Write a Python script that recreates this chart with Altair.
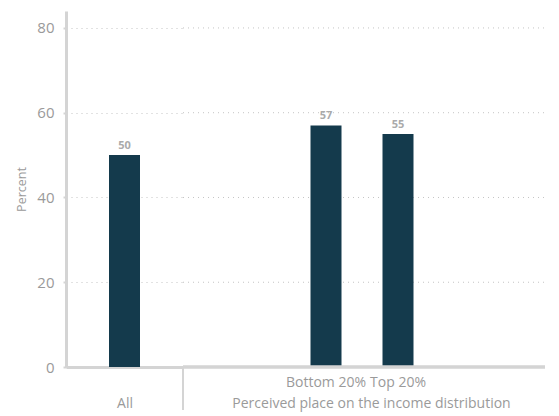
import altair as alt
import pandas as pd

all_cat = ["All"]
all_val = [50]
grp_cat = ["Bottom 20%", "Top 20%"]
grp_val = [57, 55]
y_ticks = [0, 20, 40, 60, 80]
grid_vals = [20, 40, 60, 80]

BAR = "#143a4c"
GRAY = "#9a9a9a"
LINE = "#d4d4d4"
GRID = "#c4c4c4"
FONT = "Open Sans"
H = 356
WL = 117
WR = 362

df_all = pd.DataFrame({"cat": all_cat, "val": all_val})
df_grp = pd.DataFrame({"cat": grp_cat, "val": grp_val})
df_grid = pd.DataFrame({"g": grid_vals})

yscale = alt.Scale(domain=[0, 84], nice=False)

left_base = alt.Chart(df_all).encode(
    x=alt.X("cat:N",
            axis=alt.Axis(labels=False, ticks=False, title="All", titlePadding=29,
                          titleFontWeight="normal", titleFontSize=14, titleColor=GRAY,
                          titleFont=FONT, domainColor=LINE, domainWidth=3)),
    y=alt.Y("val:Q", scale=yscale,
            axis=alt.Axis(values=y_ticks, title="Percent", titleFontWeight="normal",
                          titleFontSize=12.5, titleColor=GRAY, titleFont=FONT, titlePadding=8,
                          labelFontSize=15, labelColor=GRAY, labelFont=FONT, labelPadding=9,
                          tickSize=3, tickColor=LINE, tickWidth=2,
                          domainColor=LINE, domainWidth=3,
                          grid=True, gridDash=[1, 4], gridColor=GRID)),
)
left = alt.layer(
    left_base.mark_bar(width=31, color=BAR),
    left_base.mark_text(dy=-4, baseline="bottom", fontWeight="bold", fontSize=11,
                        color="#aaaaaa", font=FONT).encode(text="val:Q"),
    alt.Chart(df_all).mark_rule(color=LINE, strokeWidth=2).encode(
        x=alt.value(WL), y=alt.value(H), y2=alt.value(H + 43)),
).properties(width=WL, height=H)

right_base = alt.Chart(df_grp).encode(
    x=alt.X("cat:N", sort=grp_cat,
            scale=alt.Scale(paddingInner=0, paddingOuter=0, range=[107, 251]),
            axis=alt.Axis(labelAngle=0, ticks=False, domain=False, labelPadding=8,
                          labelFontSize=14, labelColor=GRAY, labelFont=FONT,
                          title="Perceived place on the income distribution",
                          titleX=188, titleAnchor="middle",
                          titlePadding=7, titleFontWeight="normal", titleFontSize=14,
                          titleColor=GRAY, titleFont=FONT)),
    y=alt.Y("val:Q", scale=yscale, axis=None),
)
right = alt.layer(
    alt.Chart(df_grid).mark_rule(color=GRID, strokeDash=[1, 4], strokeWidth=1).encode(
        y=alt.Y("g:Q", scale=yscale, axis=None), x=alt.value(0), x2=alt.value(WR)),
    right_base.mark_bar(width=31, color=BAR),
    right_base.mark_text(dy=-4, baseline="bottom", fontWeight="bold", fontSize=11,
                         color="#aaaaaa", font=FONT).encode(text="val:Q"),
    alt.Chart(df_grp).mark_rule(color=LINE, strokeWidth=3).encode(
        x=alt.value(0), x2=alt.value(WR), y=alt.value(H)),
).properties(width=WR, height=H)

chart = alt.hconcat(left, right, spacing=0, bounds="flush").properties(
    padding={"left": 7, "top": 3, "right": 0, "bottom": 5}
).configure(background="white").configure_view(strokeWidth=0, stroke="transparent")

chart.save("out.html", embed_options={"renderer": "svg", "actions": False})
